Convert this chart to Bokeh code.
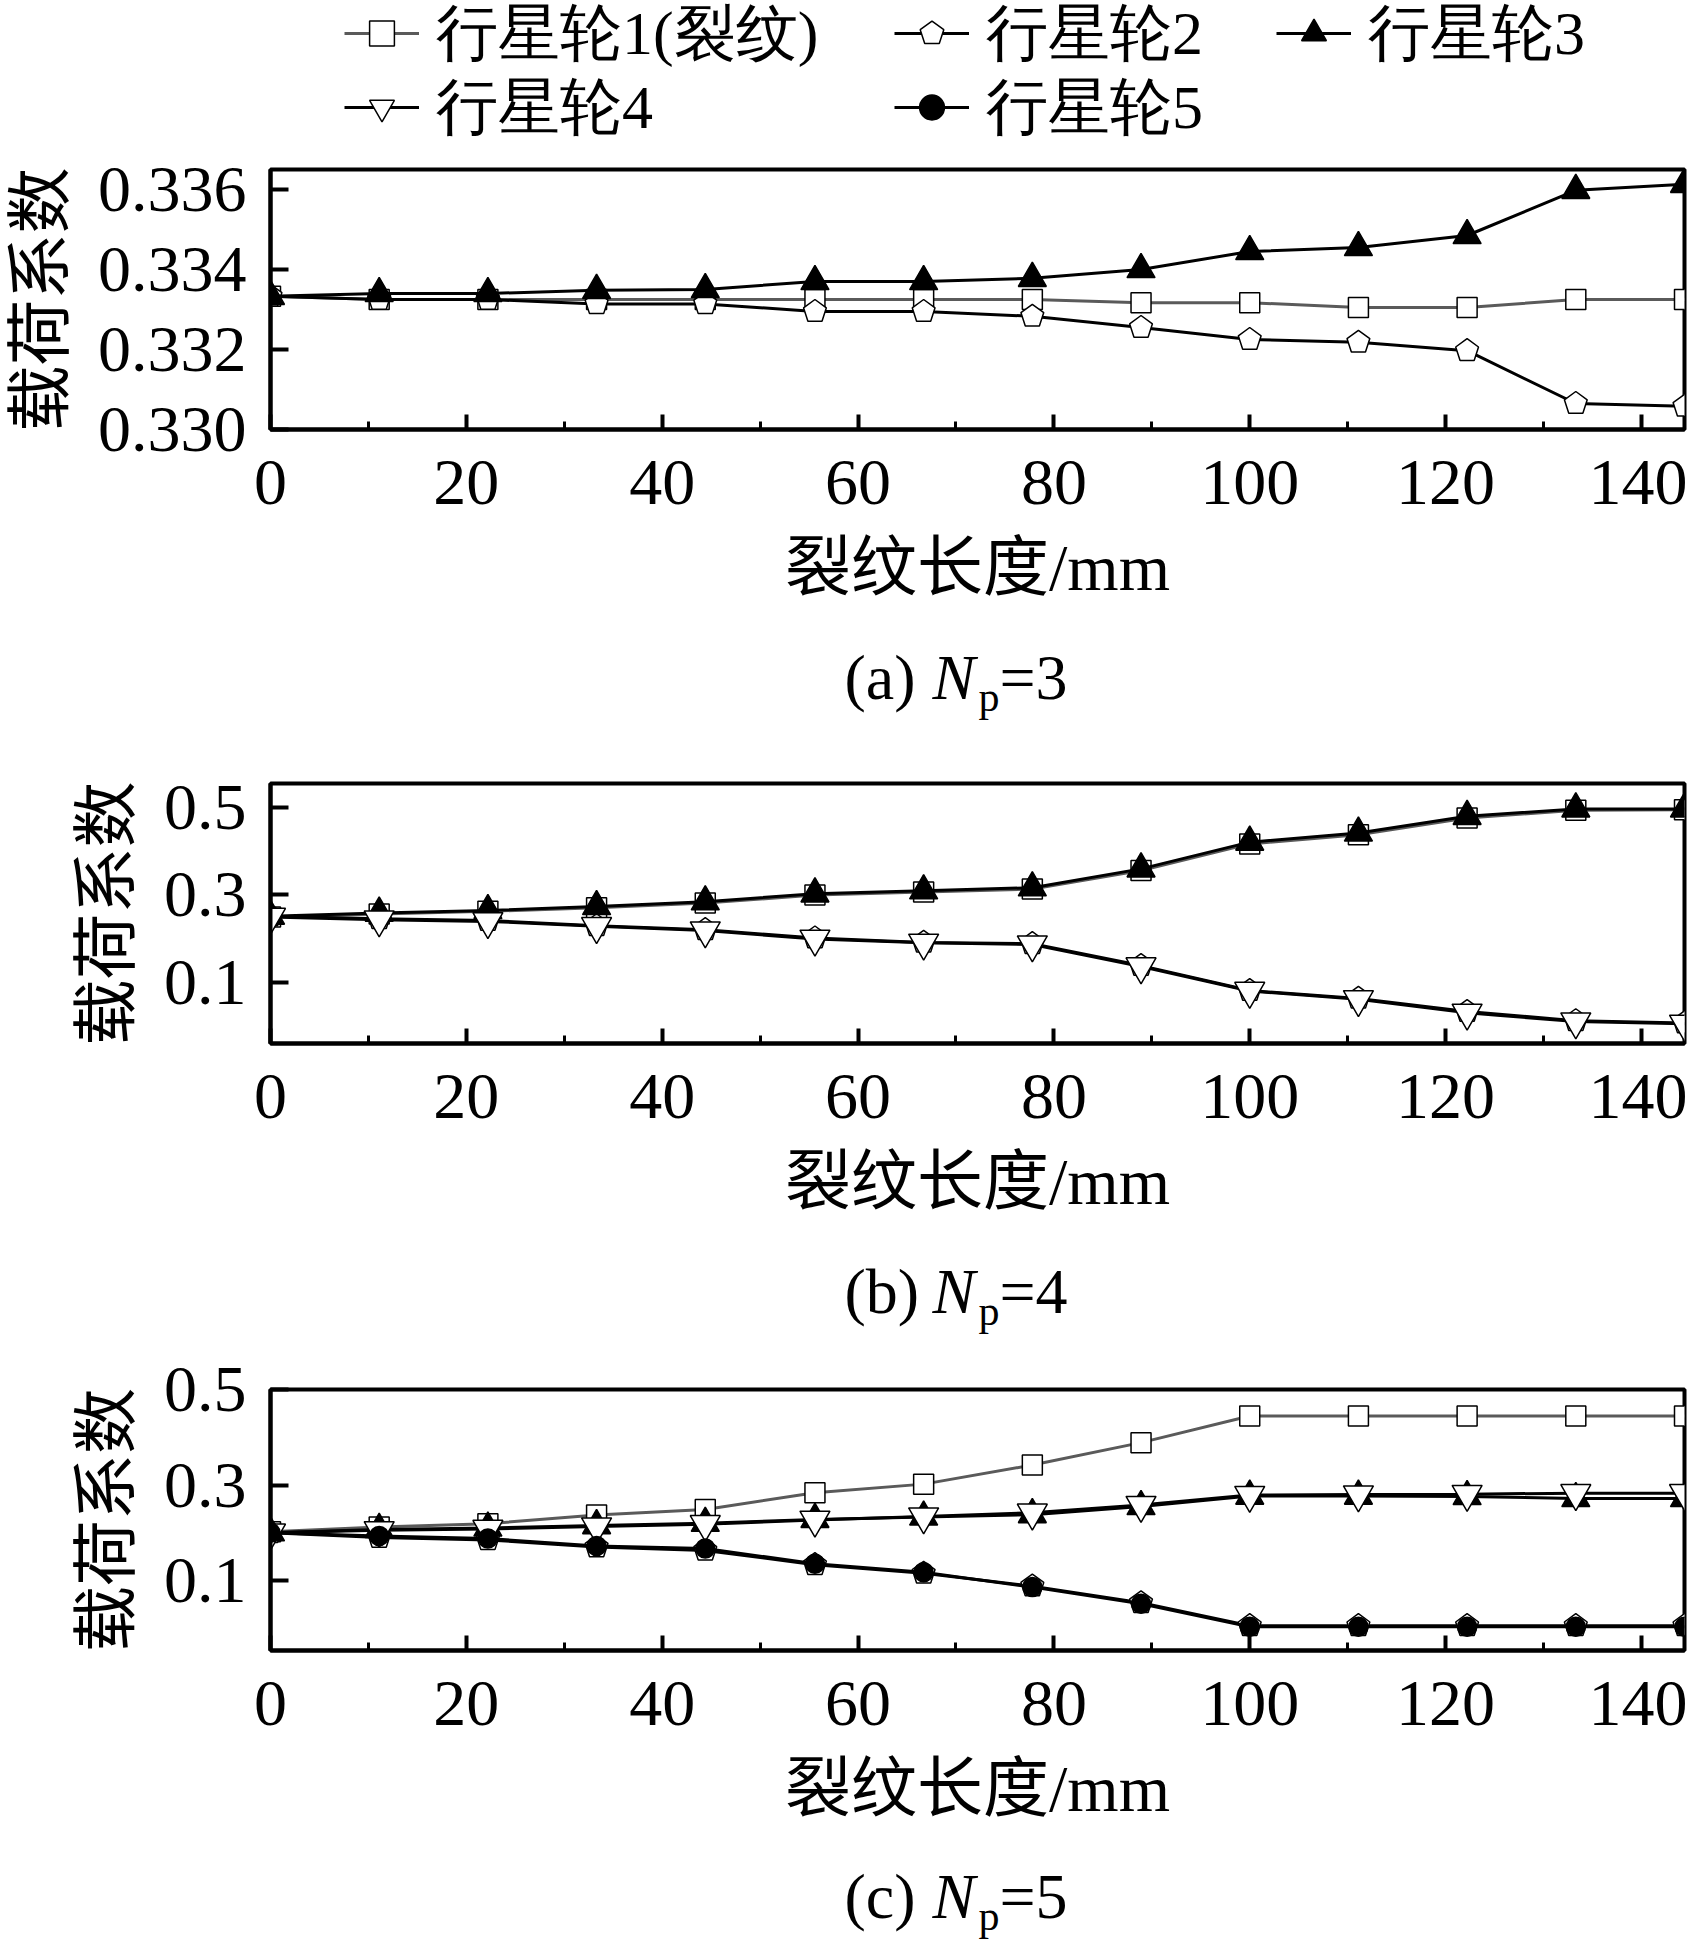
from bokeh.plotting import figure
from bokeh.layouts import column
from bokeh.models import (Range1d, FixedTicker, SingleIntervalTicker, PrintfTickFormatter,
                          Legend, LegendItem, Label, ColumnDataSource)
from bokeh.embed import file_html
from bokeh.resources import INLINE

# ---------------- data ----------------
crack_len = [0, 11.1, 22.2, 33.3, 44.4, 55.6, 66.7, 77.8, 88.9, 100.0, 111.1, 122.2, 133.3, 144.4]

# (a) Np = 3
a_p1 = [0.33333, 0.33325, 0.33325, 0.33325, 0.33325, 0.33325, 0.33325, 0.33325, 0.33317, 0.33317, 0.33305, 0.33305, 0.33325, 0.33325]
a_p2 = [0.33333, 0.33325, 0.33325, 0.33314, 0.33314, 0.33295, 0.33295, 0.33283, 0.33255, 0.33225, 0.33218, 0.33197, 0.33065, 0.33058]
a_p3 = [0.33333, 0.33340, 0.33340, 0.33348, 0.33350, 0.33370, 0.33370, 0.33378, 0.33400, 0.33445, 0.33455, 0.33485, 0.33598, 0.33613]

# (b) Np = 4
b_p1 = [0.249, 0.256, 0.262, 0.270, 0.281, 0.299, 0.306, 0.313, 0.355, 0.416, 0.437, 0.475, 0.493, 0.494]
b_p2 = [0.251, 0.245, 0.241, 0.229, 0.220, 0.201, 0.191, 0.188, 0.138, 0.081, 0.063, 0.033, 0.012, 0.007]
b_p3 = [0.251, 0.258, 0.264, 0.273, 0.284, 0.302, 0.309, 0.316, 0.359, 0.420, 0.441, 0.479, 0.496, 0.496]
b_p4 = [0.249, 0.243, 0.239, 0.228, 0.218, 0.199, 0.190, 0.186, 0.136, 0.080, 0.061, 0.030, 0.010, 0.005]

# (c) Np = 5
c_p1 = [0.202, 0.212, 0.219, 0.237, 0.249, 0.284, 0.302, 0.342, 0.389, 0.445, 0.445, 0.445, 0.445, 0.445]
c_p2 = [0.200, 0.190, 0.185, 0.170, 0.163, 0.133, 0.115, 0.088, 0.053, 0.005, 0.005, 0.005, 0.005, 0.005]
c_p3 = [0.200, 0.207, 0.210, 0.215, 0.220, 0.228, 0.233, 0.238, 0.255, 0.277, 0.277, 0.276, 0.272, 0.272]
c_p4 = [0.200, 0.205, 0.208, 0.213, 0.218, 0.227, 0.234, 0.242, 0.258, 0.279, 0.280, 0.281, 0.283, 0.283]
c_p5 = [0.200, 0.193, 0.188, 0.172, 0.167, 0.135, 0.117, 0.086, 0.051, 0.003, 0.003, 0.003, 0.003, 0.003]

series_names = ["行星轮1(裂纹)", "行星轮2", "行星轮3", "行星轮4", "行星轮5"]
a_yticks = [0.330, 0.332, 0.334, 0.336]
bc_yticks = [0.1, 0.3, 0.5]
x_label = "裂纹长度/mm"
y_label = "载荷系数"
captions = [("a", "3"), ("b", "4"), ("c", "5")]

# ---------------- styles ----------------
SERIF = "'Liberation Serif', 'Noto Sans CJK SC'"
NUM_FONT = "Liberation Serif"
W = 1687
LEFT = 268
RIGHT = 3


def blank_fig(height):
    f = figure(width=W, height=height, output_backend="svg", toolbar_location=None,
               x_axis_type=None, y_axis_type=None, x_range=Range1d(0, 1), y_range=Range1d(0, 1),
               min_border_left=LEFT, min_border_right=RIGHT, min_border_top=0, min_border_bottom=0,
               background_fill_color="white", border_fill_color="white")
    f.outline_line_color = None
    f.xgrid.visible = False
    f.ygrid.visible = False
    return f


def draw_series(p, idx, xs, ys, visible=True):
    src = ColumnDataSource(dict(x=xs, y=ys))
    lc = "#5a5a5a" if idx == 0 else "black"
    line = p.line("x", "y", source=src, line_color=lc, line_width=3)
    if idx == 0:
        mk = p.scatter("x", "y", source=src, marker="square", size=20,
                       fill_color="white", line_color="black", line_width=1.5)
    elif idx == 1:
        try:
            mk = p.ngon("x", "y", source=src, radius=12, radius_units="screen", n=5,
                        fill_color="white", line_color="black", line_width=1.5)
        except Exception:
            mk = p.scatter("x", "y", source=src, marker="hex", size=22,
                           fill_color="white", line_color="black", line_width=1.5)
    elif idx == 2:
        mk = p.scatter("x", "y", source=src, marker="triangle", size=28,
                       fill_color="black", line_color="black", line_width=1.5)
    elif idx == 3:
        mk = p.scatter("x", "y", source=src, marker="inverted_triangle", size=30,
                       fill_color="white", line_color="black", line_width=1.5)
    else:
        mk = p.scatter("x", "y", source=src, marker="circle", size=19,
                       fill_color="black", line_color="black", line_width=1.5)
    line.visible = visible
    mk.visible = visible
    return [line, mk]


def make_panel(height, top, bottom, yr, yticks, yfmt, data):
    p = figure(width=W, height=height, output_backend="svg", toolbar_location=None,
               x_range=Range1d(0, 144.4), y_range=Range1d(*yr),
               min_border_left=LEFT, min_border_right=RIGHT,
               min_border_top=top, min_border_bottom=bottom,
               background_fill_color="white", border_fill_color="white")
    p.xgrid.visible = False
    p.ygrid.visible = False
    p.outline_line_color = "black"
    p.outline_line_width = 4
    p.outline_line_alpha = 1.0

    xa = p.xaxis[0]
    xa.ticker = SingleIntervalTicker(interval=20, num_minor_ticks=2)
    xa.axis_label = x_label
    ya = p.yaxis[0]
    ya.ticker = FixedTicker(ticks=yticks)
    ya.formatter = PrintfTickFormatter(format=yfmt)
    ya.axis_label = y_label
    for ax in (xa, ya):
        ax.axis_line_width = 4
        ax.axis_line_color = "black"
        ax.major_tick_line_width = 4
        ax.major_tick_line_color = "black"
        ax.major_tick_out = 0
        ax.minor_tick_out = 0
        ax.major_label_text_font = NUM_FONT
        ax.major_label_text_font_size = "66px"
        ax.major_label_text_color = "black"
        ax.axis_label_text_font = SERIF
        ax.axis_label_text_font_size = "66px"
        ax.axis_label_text_font_style = "normal"
        ax.axis_label_text_color = "black"
    xa.major_tick_in = 15
    xa.minor_tick_in = 8
    xa.minor_tick_line_width = 3
    xa.minor_tick_line_color = "black"
    xa.major_label_standoff = 31
    xa.axis_label_standoff = 24
    ya.major_tick_in = 18
    ya.minor_tick_line_color = None
    ya.major_label_standoff = 24
    ya.axis_label_standoff = 18

    for i, ys in enumerate(data):
        draw_series(p, i, crack_len, ys)
    return p


def make_caption(height, base, letter, nval):
    f = blank_fig(height)
    parts = [(574, base, "(" + letter + ")", "normal", "64px"),
             (662, base, "N", "italic", "64px"),
             (708, base - 19, "p", "normal", "42px"),
             (729, base, "=" + nval, "normal", "64px")]
    for px, py, t, st, fs in parts:
        f.add_layout(Label(x=px, y=py, x_units="screen", y_units="screen", text=t,
                           text_font=NUM_FONT, text_font_size=fs, text_font_style=st,
                           text_color="black", text_baseline="alphabetic", text_align="left"))
    return f


def make_legend(item, loc):
    return Legend(items=[item], location=loc, orientation="vertical",
                  border_line_color=None, background_fill_alpha=0.0, click_policy="none",
                  inactive_fill_alpha=0.0,
                  label_text_font=NUM_FONT, label_text_font_size="62px",
                  label_text_color="black", glyph_width=75, glyph_height=62,
                  label_standoff=17, spacing=0, padding=0, margin=0)


# legend strip on top (legend glyphs taken from hidden copies of the Np=5 series)
leg = blank_fig(150)
c_all = [c_p1, c_p2, c_p3, c_p4, c_p5]
leg_rends = [draw_series(leg, i, crack_len, c_all[i], visible=False) for i in range(5)]
items = [LegendItem(label=series_names[i], renderers=leg_rends[i]) for i in range(5)]
leg_cols = [74, 624, 1006, 74, 624]
leg_rows = [75, 75, 75, 1, 1]
for i in range(5):
    leg.add_layout(make_legend(items[i], (leg_cols[i], leg_rows[i])), "center")

pa = make_panel(465, 19, 186, (0.330, 0.3365), a_yticks, "%.3f", [a_p1, a_p2, a_p3])
ca = make_caption(125, 63, *captions[0])
pb = make_panel(489, 43, 186, (-0.04, 0.554), bc_yticks, "%.1f", [b_p1, b_p2, b_p3, b_p4])
cb = make_caption(116, 54, *captions[1])
pc = make_panel(491, 44, 186, (-0.047, 0.5005), bc_yticks, "%.1f", [c_p1, c_p2, c_p3, c_p4, c_p5])
cc = make_caption(108, 48, *captions[2])

layout = column(leg, pa, ca, pb, cb, pc, cc, spacing=0)
open("out.html", "w").write(file_html(layout, INLINE))
